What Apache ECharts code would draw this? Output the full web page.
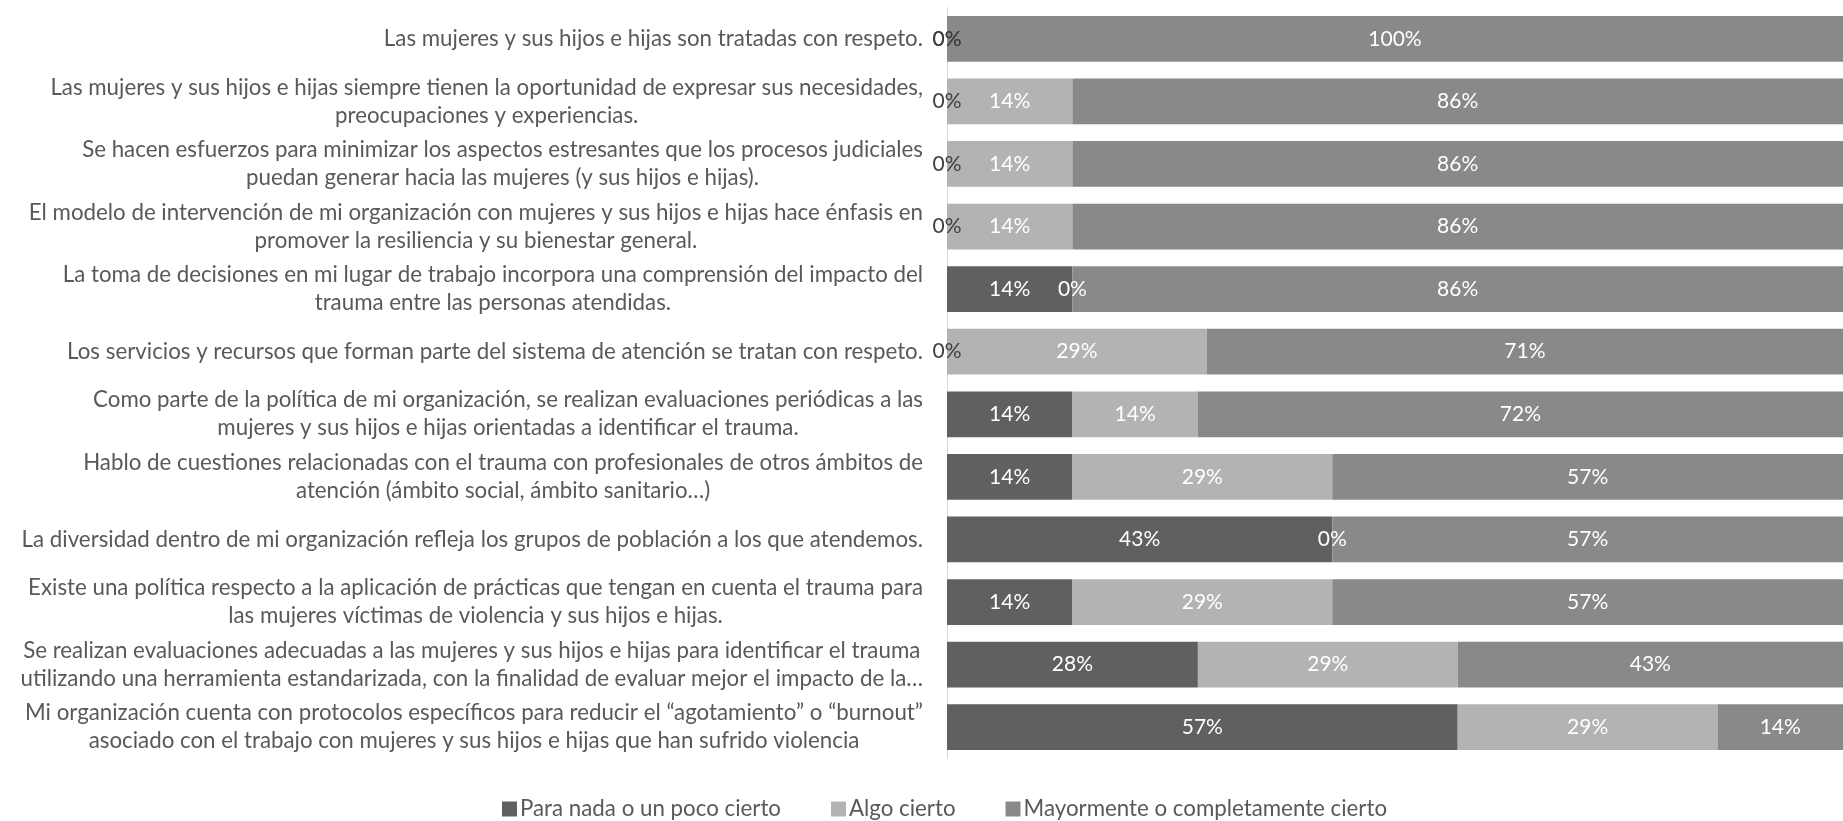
<!DOCTYPE html>
<html>
<head>
<meta charset="utf-8">
<script src="https://cdn.jsdelivr.net/npm/echarts@6/dist/echarts.min.js"></script>
<style>
  html, body { margin: 0; padding: 0; background: #ffffff; }
  #chart { width: 1843px; height: 821px; }
</style>
</head>
<body>
<div id="chart"></div>
<script>
// Survey statements (top to bottom), with line breaks as wrapped in the chart
const categories = [
  'Las mujeres y sus hijos e hijas son tratadas con respeto.',
  'Las mujeres y sus hijos e hijas siempre tienen la oportunidad de expresar sus necesidades,\npreocupaciones y experiencias.',
  'Se hacen esfuerzos para minimizar los aspectos estresantes que los procesos judiciales\npuedan generar hacia las mujeres (y sus hijos e hijas).',
  'El modelo de intervención de mi organización con mujeres y sus hijos e hijas hace énfasis en\npromover la resiliencia y su bienestar general.',
  'La toma de decisiones en mi lugar de trabajo incorpora una comprensión del impacto del\ntrauma entre las personas atendidas.',
  'Los servicios y recursos que forman parte del sistema de atención se tratan con respeto.',
  'Como parte de la política de mi organización, se realizan evaluaciones periódicas a las\nmujeres y sus hijos e hijas orientadas a identificar el trauma.',
  'Hablo de cuestiones relacionadas con el trauma con profesionales de otros ámbitos de\natención (ámbito social, ámbito sanitario…)',
  'La diversidad dentro de mi organización refleja los grupos de población a los que atendemos.',
  'Existe una política respecto a la aplicación de prácticas que tengan en cuenta el trauma para\nlas mujeres víctimas de violencia y sus hijos e hijas.',
  'Se realizan evaluaciones adecuadas a las mujeres y sus hijos e hijas para identificar el trauma\nutilizando una herramienta estandarizada, con la finalidad de evaluar mejor el impacto de la…',
  'Mi organización cuenta con protocolos específicos para reducir el “agotamiento” o “burnout”\nasociado con el trabajo con mujeres y sus hijos e hijas que han sufrido violencia'
];

const seriesNames = [
  'Para nada o un poco cierto',
  'Algo cierto',
  'Mayormente o completamente cierto'
];

// Percentages per statement
const paraNada   = [0, 0, 0, 0, 14, 0, 14, 14, 43, 14, 28, 57];
const algoCierto = [0, 14, 14, 14, 0, 29, 14, 29, 0, 29, 29, 29];
const mayormente = [100, 86, 86, 86, 86, 71, 72, 57, 57, 57, 43, 14];

const colors = ['#606060', '#b3b3b3', '#898989'];
const FONT = 'Lato, "Open Sans", sans-serif';
const FS = 22.3;
const VFS = 21;

const allSeries = [paraNada, algoCierto, mayormente];

// Labels sitting at the bar origin are drawn dark, the rest white
function buildData(idx) {
  return allSeries[idx].map((v, i) => {
    let start = 0;
    for (let k = 0; k < idx; k++) start += allSeries[k][i];
    const dark = v === 0 && start === 0;
    return { value: v, label: { color: dark ? '#404040' : '#ffffff' } };
  });
}

const chart = echarts.init(document.getElementById('chart'), null, { renderer: 'canvas' });

chart.setOption({
  animation: false,
  textStyle: { fontFamily: FONT },
  grid: { left: 947, right: 0, top: 7.5, height: 751, containLabel: false },
  legend: {
    left: 502,
    top: 798,
    padding: 0,
    itemWidth: 15,
    itemHeight: 15,
    itemGap: 50,
    icon: 'rect',
    textStyle: { color: '#595959', fontSize: FS, fontFamily: FONT, padding: [0, 0, 0, -2] },
    data: seriesNames
  },
  xAxis: {
    type: 'value',
    min: 0,
    max: 100,
    show: false
  },
  yAxis: {
    type: 'category',
    inverse: true,
    data: categories,
    axisLine: { show: true, lineStyle: { color: '#d9d9d9', width: 1 } },
    axisTick: { show: false },
    axisLabel: {
      margin: 24,
      align: 'right',
      formatter: (val) => val.split('\n').map(l => '{c|' + l + '}').join('\n'),
      rich: {
        c: { align: 'center', color: '#595959', fontSize: FS, fontFamily: FONT, lineHeight: 28 }
      }
    }
  },
  series: seriesNames.map((name, idx) => ({
    name,
    type: 'bar',
    stack: 'total',
    barCategoryGap: '27%',
    itemStyle: { color: colors[idx] },
    label: {
      show: true,
      position: 'inside',
      formatter: '{c}%',
      fontSize: VFS,
      fontFamily: FONT
    },
    data: buildData(idx)
  }))
});
</script>
</body>
</html>
